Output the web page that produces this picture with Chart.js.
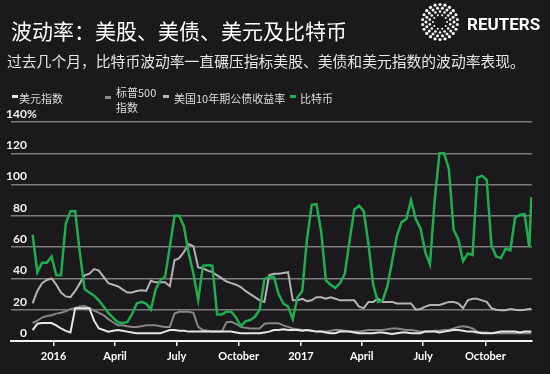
<!DOCTYPE html>
<html>
<head>
<meta charset="utf-8">
<script src="https://cdn.jsdelivr.net/npm/chart.js@4"></script>
<style>
  html, body { margin: 0; padding: 0; background: #1b191b; }
  #wrap { position: relative; width: 550px; height: 374px; overflow: hidden; }
  #graph { position: absolute; left: 0; top: 0; }
  .txt { position: absolute; white-space: nowrap; line-height: 1; }
  #title { left: 11px; top: 15px; font: 21px "Noto Sans CJK SC", sans-serif; color: #ffffff; }
  #subtitle { left: 7px; top: 50px; font: 14.8px "Noto Sans CJK SC", sans-serif; color: #e6e6e6; }
  .leg { font: 11px "Noto Sans CJK SC", sans-serif; color: #dddddd; }
  .dash { position: absolute; width: 6px; height: 2.5px; }
  #brand { left: 467px; top: 14px; font: bold 17px Roboto, sans-serif; color: #ffffff; }
  #logo { position: absolute; left: 419px; top: 1px; }
</style>
</head>
<body>
<div id="wrap">
  <canvas id="graph" width="550" height="374"></canvas>
  <div class="txt" id="title">波动率：美股、美债、美元及比特币</div>
  <div class="txt" id="subtitle">过去几个月，比特币波动率一直碾压指标美股、美债和美元指数的波动率表现。</div>
  <svg id="logo" width="42" height="42"></svg>
  <div class="txt" id="brand">REUTERS</div>

  <div class="dash" style="left:12px;top:95px;background:#e6e6e6"></div>
  <div class="txt leg" style="left:19px;top:90px">美元指数</div>
  <div class="dash" style="left:105px;top:96px;background:#8a8a8a"></div>
  <div class="txt leg" style="left:116px;top:84px">标普500</div>
  <div class="txt leg" style="left:116px;top:99px">指数</div>
  <div class="dash" style="left:163px;top:95px;background:#b8b8b8"></div>
  <div class="txt leg" style="left:174px;top:90px">美国10年期公债收益率</div>
  <div class="dash" style="left:290px;top:95px;background:#1fae4f"></div>
  <div class="txt leg" style="left:300px;top:90px">比特币</div>
</div>
<script>
// weekly observations, Dec 2015 - Dec 2017 (days counted from 2016-01-01)
const startDate = "2015-12-01";
const endDate = "2017-12-08";
const weeks = 106;

const bitcoin = [68, 44, 50, 50, 54, 42, 42, 75, 83, 83,
  56, 33, 31, 29, 26, 22, 18, 15, 12, 11.5,
  12, 17, 24, 25, 24, 20, 33, 39, 41, 60,
  80, 80, 73, 56, 43, 26, 48, 48.6, 48, 17,
  17, 18.7, 18.7, 15, 9.5, 12.5, 13.4, 15.5, 20, 39.5,
  41, 41, 30, 24, 22, 14, 28, 32, 65, 87,
  87.5, 70, 38.8, 36, 34, 37, 43, 64, 84, 86.5,
  83, 62, 36, 25, 26, 35, 51, 67, 76, 78,
  90, 78, 72, 57, 49, 90, 120, 120, 110, 71,
  65, 51, 56, 55, 104.5, 105.6, 103, 61, 54, 53,
  59, 58, 79, 80.5, 81, 60, 92];

const treasury10y = [24, 32, 37, 39, 40, 36, 31, 28.5, 28, 32,
  37, 42, 43, 46, 45, 41, 37, 36, 35, 33,
  31, 31, 32, 32.5, 32, 38.5, 37.5, 37.5, 37.5, 35,
  51.6, 53, 57, 62, 60.5, 47, 46.5, 45, 44, 42,
  40, 38, 37, 36, 34.5, 32, 30, 28, 26, 25,
  42, 43, 43, 43.5, 44, 26, 26, 27, 25.5, 26,
  28, 28, 27, 28, 27, 26, 26, 26, 26, 22,
  21, 25, 25, 27, 25, 25, 25, 24, 24, 24,
  24, 20, 20.5, 22, 23, 23, 23, 24, 25, 25,
  24, 21, 26, 27, 27, 26, 25, 21, 20, 19.7,
  19.7, 20.5, 20, 19.7, 20, 20.5, 20.5];

const sp500 = [11.5, 13, 15, 16, 16.5, 17.5, 18, 19, 20.5, 21,
  22, 22.4, 21, 19.5, 18, 16.5, 14, 12, 10, 10,
  9.5, 9, 9, 9.5, 10, 10, 10, 9.5, 9, 9,
  17.5, 18.7, 18.7, 18.7, 18, 9, 7, 6.5, 6, 6,
  6, 12, 12.3, 11, 9, 8.5, 8, 8, 8, 11,
  11.3, 11.3, 11.3, 10, 9, 8, 7.5, 7, 7, 6.5,
  6, 6, 6, 6.5, 7, 7, 6.5, 6, 6, 6,
  6.5, 7, 7, 7, 7, 7.5, 8, 8, 7.5, 7,
  7, 6.5, 6, 6, 6, 6.5, 6.5, 7, 7, 8,
  9, 9.5, 9, 8, 6, 5.5, 5.5, 5, 5, 5,
  5, 5, 5, 5, 5, 5, 5];

const dollarIndex = [7, 11, 11.5, 11.5, 11.5, 10, 8, 6.5, 5.5, 21,
  21, 21, 21, 13, 8, 7, 6, 6.5, 7, 6.5,
  6, 5.5, 5, 5, 5, 5, 5, 5, 6, 7,
  7, 6.5, 6.5, 6, 6, 6, 6, 6, 6, 6,
  6, 6, 6, 5.5, 5, 5, 5, 5, 5, 5.5,
  6, 7, 7, 7.5, 7, 7, 7, 6.5, 7, 6.5,
  6, 6, 5.5, 5, 5, 6, 6, 6, 5.5, 5,
  5, 5, 5, 5.5, 5.5, 5, 4.5, 5, 5.5, 5.5,
  5, 5, 5, 6, 6, 6, 5.5, 6, 6.5, 7,
  7, 6.5, 6, 6, 5.5, 5, 5, 5, 5.5, 6,
  6, 6, 6, 5.5, 6, 6, 6];

const tickDates = ["2016-01-01", "2016-04-01", "2016-07-01", "2016-10-01",
  "2017-01-01", "2017-04-01", "2017-07-01", "2017-10-01"];
const tickLabels = ["2016", "April", "July", "October", "2017", "April", "July", "October"];

function dayOf(s) {
  const p = s.split("-").map(Number);
  return (Date.UTC(p[0], p[1] - 1, p[2]) - Date.UTC(2016, 0, 1)) / 86400000;
}

const dates = [];
for (let i = 0; i < weeks; i++) dates.push(dayOf(startDate) + 7 * i);
dates.push(dayOf(endDate));
const tickDays = tickDates.map(dayOf);

function pts(vals) {
  return vals.map((v, i) => ({ x: dates[i], y: v }));
}

// Reuters dot logo
const svg = document.getElementById("logo");
let dots = "";
[[7, 10, 1.0], [10.5, 14, 1.3], [14, 18, 1.5], [17.5, 22, 1.6]].forEach(([r, n, s], j) => {
  for (let i = 0; i < n; i++) {
    const a = (i + j * 0.5) / n * Math.PI * 2;
    dots += `<circle cx="${21 + r * Math.cos(a)}" cy="${21 + r * Math.sin(a)}" r="${s}" fill="#fff"/>`;
  }
});
svg.innerHTML = dots;

const yLabels = {
  id: "yLabels",
  afterDraw(chart) {
    const ctx = chart.ctx;
    const sc = chart.scales.y;
    ctx.save();
    ctx.font = "bold 12px Lato, sans-serif";
    ctx.fillStyle = "#f2f2f2";
    ctx.textBaseline = "middle";
    sc.ticks.forEach((t) => {
      const y = sc.getPixelForValue(t.value) - 8;
      ctx.textAlign = "right";
      ctx.fillText(String(t.value), 27, y);
      if (t.value === 140) {
        ctx.textAlign = "left";
        ctx.fillText("%", 27, y);
      }
    });
    ctx.restore();
  },
};

const line = (label, data, color, width) => ({
  label: label,
  data: pts(data),
  borderColor: color,
  borderWidth: width,
  pointRadius: 0,
  tension: 0,
  fill: false,
});

let graph = document.getElementById("graph").getContext("2d");
let volChart = new Chart(graph, {
  type: "line",
  data: {
    datasets: [
      line("比特币", bitcoin, "#1fae4f", 2.5),
      line("美元指数", dollarIndex, "#e6e6e6", 2),
      line("标普500指数", sp500, "#858585", 2),
      line("美国10年期公债收益率", treasury10y, "#b4b4b4", 2),
    ],
  },
  options: {
    responsive: false,
    animation: false,
    devicePixelRatio: 1,
    layout: { padding: { left: 11, right: 18, top: 122, bottom: 0 } },
    plugins: {
      legend: { display: false },
      tooltip: { enabled: false },
    },
    scales: {
      x: {
        type: "linear",
        min: -63,
        max: 708,
        afterBuildTicks: (scale) => {
          scale.ticks = tickDays.map((v) => ({ value: v }));
        },
        afterFit: (scale) => { scale.height = 33; },
        border: { display: true, color: "#f2f2f2", width: 2 },
        grid: {
          drawOnChartArea: false,
          drawTicks: true,
          tickLength: 5,
          color: "#f2f2f2",
          lineWidth: 1.5,
        },
        ticks: {
          autoSkip: false,
          maxRotation: 0,
          padding: 4,
          color: "#ffffff",
          font: { family: "Lato", size: 11, weight: "bold" },
          callback: (value, index) => tickLabels[index],
        },
      },
      y: {
        min: 0,
        max: 140,
        afterFit: (scale) => { scale.width = 0; },
        border: { display: false },
        grid: {
          drawTicks: false,
          color: (c) => (c.tick && c.tick.value === 0 ? "rgba(0,0,0,0)" : "#7c7c7c"),
          lineWidth: 1.5,
        },
        ticks: { stepSize: 20, display: false },
      },
    },
  },
  plugins: [yLabels],
});
</script>
</body>
</html>
